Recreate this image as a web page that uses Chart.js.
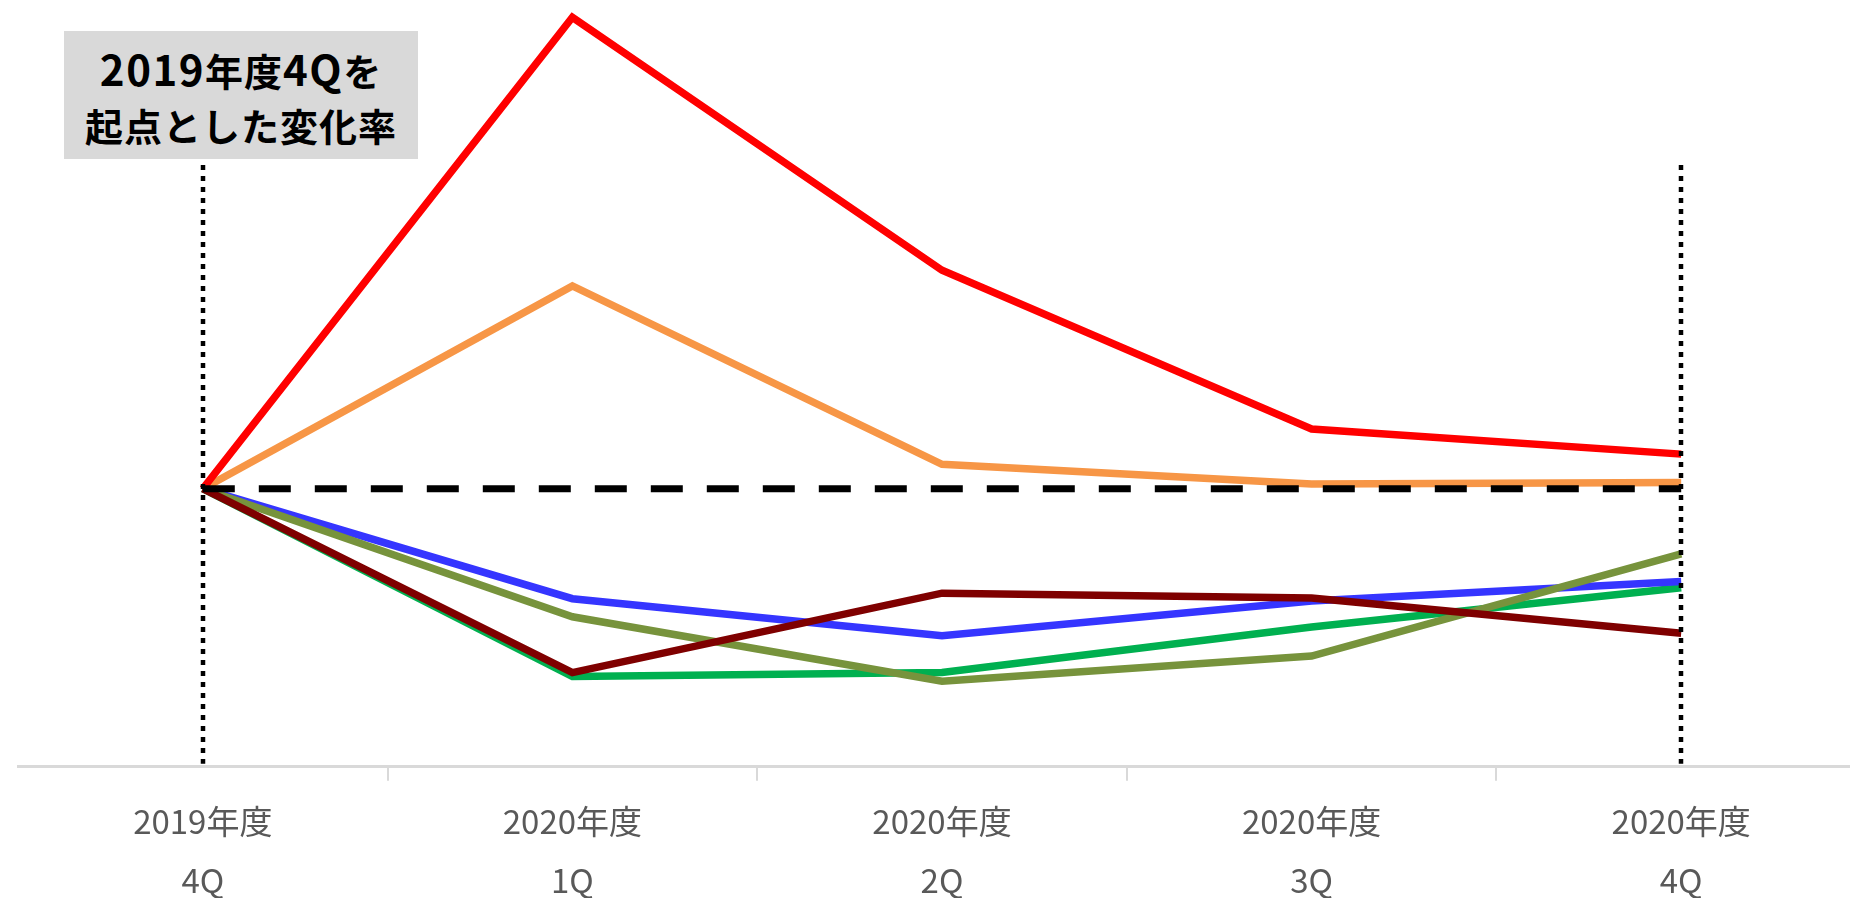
<!DOCTYPE html>
<html lang="ja">
<head>
    <meta charset="UTF-8">
    <title>2019年度4Qを起点とした変化率</title>
    <script src="https://cdn.jsdelivr.net/npm/chart.js"></script>
    <style>
        html, body {
            margin: 0;
            padding: 0;
            overflow: hidden;
            background: #fff;
        }
        .wrap {
            position: relative;
            width: 1866px;
            height: 921px;
        }
        .note {
            position: absolute;
            left: 64px;
            top: 31px;
            width: 354px;
            height: 128px;
            box-sizing: border-box;
            padding-top: 9px;
            background: #d9d9d9;
            color: #000;
            font-family: "Noto Sans CJK JP", sans-serif;
            font-weight: bold;
            font-size: 38px;
            line-height: 55px;
            text-align: center;
            letter-spacing: 1px;
        }
        .note .num {
            font-size: 42px;
            letter-spacing: 1.5px;
        }
    </style>
</head>
<body>

<div class="wrap">
    <canvas id="changeChart"></canvas>
    <div class="note"><span class="num">2019</span>年度<span class="num">4Q</span>を<br>起点とした変化率</div>
</div>

<script>
    // 期間ラベル
    const yearLabels = ["2019年度", "2020年度", "2020年度", "2020年度", "2020年度"];
    const quarterLabels = ["4Q", "1Q", "2Q", "3Q", "4Q"];

    // 2019年度4Qを起点とした変化率（%、図から読み取った概算値）
    const baseline = [0, 0, 0, 0, 0];
    const redSeries = [0, 60, 27.8, 7.6, 4.4];
    const orangeSeries = [0, 25.8, 3.1, 0.6, 0.8];
    const darkRedSeries = [0, -23.4, -13.3, -13.9, -18.4];
    const oliveSeries = [0, -16.3, -24.5, -21.3, -8.3];
    const blueSeries = [0, -14.0, -18.7, -14.3, -11.8];
    const greenSeries = [0, -23.9, -23.4, -17.6, -12.6];

    const labels = yearLabels.map((y, i) => [y, quarterLabels[i]]);

    function lineSet(data, color) {
        return {
            data: data,
            borderColor: color,
            backgroundColor: color,
            borderWidth: 7.5,
            pointRadius: 0,
            tension: 0,
            fill: false
        };
    }

    // 始点と終点の点線
    const edgeLines = {
        id: 'edgeLines',
        afterDatasetsDraw(chart) {
            const ctx = chart.ctx;
            const x = chart.scales.x;
            const area = chart.chartArea;
            ctx.save();
            ctx.strokeStyle = '#000';
            ctx.lineWidth = 4.5;
            ctx.setLineDash([5, 6]);
            [0, labels.length - 1].forEach(i => {
                const px = Math.round(x.getPixelForValue(i));
                ctx.beginPath();
                ctx.moveTo(px, 165);
                ctx.lineTo(px, area.bottom - 3);
                ctx.stroke();
            });
            ctx.restore();
        }
    };

    const config = {
        type: 'line',
        data: {
            labels: labels,
            datasets: [
                Object.assign(lineSet(baseline, '#000'), { borderDash: [32, 24], borderWidth: 7 }),
                lineSet(redSeries, '#ff0000'),
                lineSet(orangeSeries, '#f79646'),
                lineSet(darkRedSeries, '#7f0000'),
                lineSet(oliveSeries, '#77933c'),
                lineSet(blueSeries, '#3535ff'),
                lineSet(greenSeries, '#00b050')
            ]
        },
        options: {
            responsive: true,
            maintainAspectRatio: false,
            animation: false,
            layout: {
                padding: { left: 18, right: 0, top: 0, bottom: 0 }
            },
            scales: {
                x: {
                    offset: true,
                    grid: {
                        offset: true,
                        drawOnChartArea: false,
                        drawTicks: true,
                        tickLength: 14,
                        lineWidth: 2,
                        color: (c) => c.index === 0 ? 'rgba(0,0,0,0)' : '#d9d9d9'
                    },
                    border: {
                        display: true,
                        color: '#d9d9d9',
                        width: 3
                    },
                    ticks: {
                        color: '#595959',
                        padding: 12,
                        font: {
                            family: '"Noto Sans CJK JP", sans-serif',
                            size: 33,
                            lineHeight: 1.76
                        }
                    }
                },
                y: {
                    display: false,
                    min: -35.4,
                    max: 62.2
                }
            },
            plugins: {
                legend: { display: false },
                tooltip: { enabled: false }
            }
        },
        plugins: [edgeLines]
    };

    const changeChart = new Chart(
        document.getElementById('changeChart'),
        config
    );
</script>

</body>
</html>
